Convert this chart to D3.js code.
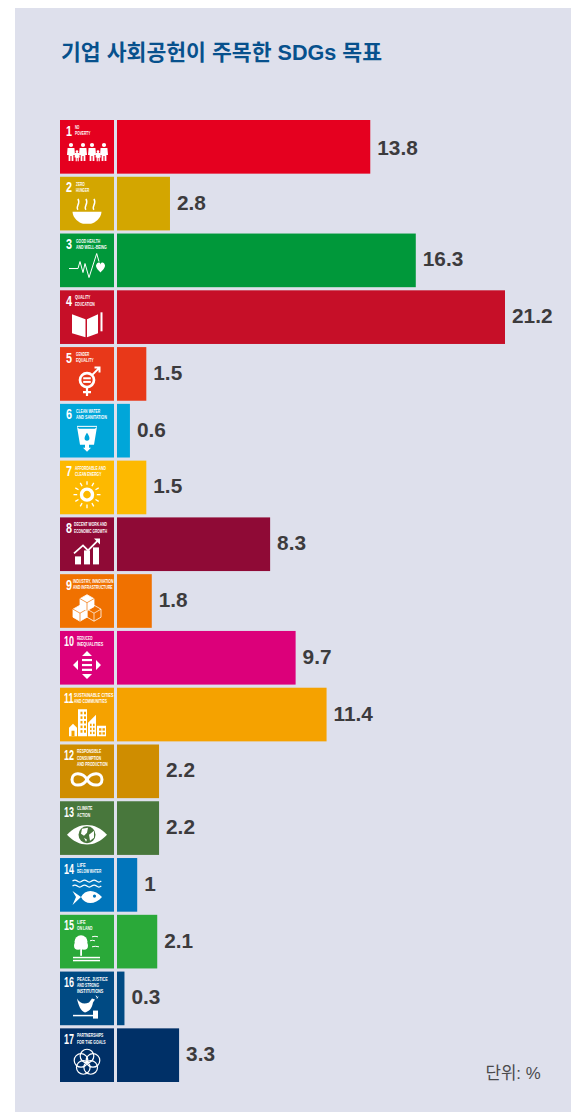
<!DOCTYPE html>
<html><head><meta charset="utf-8">
<style>html,body{margin:0;padding:0;background:#fff}svg{display:block}</style>
<script src="https://cdn.jsdelivr.net/npm/d3@7"></script></head>
<body><svg id="c" width="586" height="1112"></svg>
<script>
const goalNumbers=[1,2,3,4,5,6,7,8,9,10,11,12,13,14,15,16,17];
const values=[13.8,2.8,16.3,21.2,1.5,0.6,1.5,8.3,1.8,9.7,11.4,2.2,2.2,1,2.1,0.3,3.3];
const valueLabels=["13.8","2.8","16.3","21.2","1.5","0.6","1.5","8.3","1.8","9.7","11.4","2.2","2.2","1","2.1","0.3","3.3"];
const colors=["#e5001f","#d3a600","#00983a","#c60f28","#e83819","#00a6d9","#fdb900","#8f0a36","#f07100","#dc007a","#f5a200","#cf8d00","#48773c","#0075bb","#2aa939","#004a83","#003067"];
const goalNames=[["NO","POVERTY"],["ZERO","HUNGER"],["GOOD HEALTH","AND WELL-BEING"],["QUALITY","EDUCATION"],["GENDER","EQUALITY"],["CLEAN WATER","AND SANITATION"],["AFFORDABLE AND","CLEAN ENERGY"],["DECENT WORK AND","ECONOMIC GROWTH"],["INDUSTRY, INNOVATION","AND INFRASTRUCTURE"],["REDUCED","INEQUALITIES"],["SUSTAINABLE CITIES","AND COMMUNITIES"],["RESPONSIBLE","CONSUMPTION","AND PRODUCTION"],["CLIMATE","ACTION"],["LIFE","BELOW WATER"],["LIFE","ON LAND"],["PEACE, JUSTICE","AND STRONG","INSTITUTIONS"],["PARTNERSHIPS","FOR THE GOALS"]];
const titleText="기업 사회공헌이 주목한 SDGs 목표";
const unitText="단위: %";
const svg=d3.select("#c");
const font="'Liberation Sans','Noto Sans CJK KR',sans-serif";
svg.append("rect").attr("x",15).attr("y",8).attr("width",556).attr("height",1104).attr("fill","#dee0ec");
svg.append("text").attr("x",61).attr("y",60).attr("fill","#07518d").attr("font-family",font).attr("font-size",21.5).attr("font-weight",700).attr("textLength",321).attr("lengthAdjust","spacingAndGlyphs").text(titleText);
const barLeft=117;
const x=d3.scaleLinear().domain([0,21.2]).range([119,505]);
const y=d3.scaleBand().domain(goalNumbers).range([120,1082]).paddingInner(0.055).paddingOuter(0);
const g=svg.selectAll("g.row").data(goalNumbers).join("g").attr("class","row");
g.append("rect").attr("x",60).attr("y",d=>y(d)).attr("width",54).attr("height",y.bandwidth()).attr("fill",(d,i)=>colors[i]);
g.append("rect").attr("x",barLeft).attr("y",d=>y(d)).attr("width",(d,i)=>x(values[i])-barLeft).attr("height",y.bandwidth()).attr("fill",(d,i)=>colors[i]);
g.append("text").attr("x",(d,i)=>x(values[i])+7).attr("y",(d,i)=>y(d)+y.bandwidth()/2+(i==0?8.5:6)).attr("fill","#3c3b3d").attr("font-family","'Liberation Sans',sans-serif").attr("font-weight",700).attr("font-size",20.8).text((d,i)=>valueLabels[i]);
g.append("text").attr("transform",d=>`translate(${d>=10?64:66},${y(d)+15.5}) scale(${d>=10?.6:.72},1)`).attr("fill","#fff").attr("font-family","'Liberation Sans Narrow','Liberation Sans',sans-serif").attr("font-weight",700).attr("font-size",15).text(d=>d);
const nameLeft=[75,76,76,75,76,76,75,74,73,77,74,77,77,77,77,77,77];
g.each(function(d,i){const s=d3.select(this);const x0=nameLeft[i];goalNames[i].forEach((t,k)=>{s.append("text").attr("x",x0).attr("y",y(d)+9+k*6.3).attr("fill","#fff").attr("font-family","'Liberation Sans Narrow','Liberation Sans',sans-serif").attr("font-weight",700).attr("font-size",4.7).attr("textLength",Math.min(113.5-x0,t.length*2.2)).attr("lengthAdjust","spacingAndGlyphs").text(t);});});
const W="#fff";
function icon(i,s,cx,cy){
 const bg=colors[i];
 const G=s.append("g").attr("transform",`translate(${cx},${cy})`).attr("fill",W).attr("stroke","none");
 const line=(p,w=1.2)=>G.append("path").attr("d",p).attr("fill","none").attr("stroke",W).attr("stroke-width",w);
 const n=i+1;
 if(n==1){[[-16,1],[-4,1],[5,1],[17,1],[-10,.65],[11,.65]].forEach(([a,k])=>{const t=10-19*k;G.append("circle").attr("cx",a).attr("cy",t+2).attr("r",2.1*k);G.append("path").attr("d",`M${a-3.4*k},${t+5*k}h${6.8*k}l.6,${7*k}h${-1.6*k}v${6*k}h${-1.8*k}v${-5*k}h${-1.2*k}v${5*k}h${-1.8*k}v${-6*k}h${-1.6*k}z`);});}
 if(n==2){G.append("path").attr("d","M-14.5,1H14.5C14,8 8,12 4,13H-4C-8,12 -14,8 -14.5,1Z");[-8,0,8].forEach(a=>line(`M${a-1},-1c-3,-3 3,-6 0,-11`,1.5));}
 if(n==3){line("M-18,4H-9L-7,-3L-4,8L-2,-1L2,13L9.7,-11L12,-3",1);G.append("path").attr("d","M9,1c1,-3.5 4,-4 4.5,-1c.5,-3 4,-2.5 4.5,1c0,3 -3,5 -4.5,7c-1.5,-2 -4.5,-4 -4.5,-7z");}
 if(n==4){G.append("path").attr("d","M-15,-11L-1.5,-6V12L-15,8Z M0,-6L11,-11V8L0,12Z");G.append("rect").attr("x",13.5).attr("y",-13).attr("width",2).attr("height",19);}
 if(n==5){G.append("circle").attr("r",7).attr("fill","none").attr("stroke",W).attr("stroke-width",2.7);line("M5,-5L12,-12M7.5,-12.5H12.5V-7.5",2);line("M0,7V16M-4,12H4",2.2);G.append("rect").attr("x",-3.8).attr("y",-2.8).attr("width",7.6).attr("height",2);G.append("rect").attr("x",-3.8).attr("y",.8).attr("width",7.6).attr("height",2);}
 if(n==6){line("M-10,-11.5H10",1);G.append("path").attr("d","M-10,-11L-7,7H-2V10H-4L0,14L4,10H2V7H7L10,-11L8,-9H-8Z");G.append("path").attr("d","M0,-5c-3,4 -3.5,8 0,8c3.5,0 3,-4 0,-8z").attr("fill",bg);}
 if(n==7){G.append("circle").attr("r",5.5).attr("fill","none").attr("stroke",W).attr("stroke-width",3.4);d3.range(12).forEach(k=>{const a=k*Math.PI/6;line(`M${Math.cos(a)*9.8},${Math.sin(a)*9.8}L${Math.cos(a)*13.5},${Math.sin(a)*13.5}`,1.3);});}
 if(n==8){[[-12,5],[-3,-1],[6,-4]].forEach(([a,t])=>G.append("rect").attr("x",a).attr("y",t).attr("width",6).attr("height",13-t));line("M-13,2L-4,-6L1,-1L11,-11",1.8);G.append("path").attr("d","M7,-13H13V-7Z");}
 if(n==9){[[7,5,"none"],[-7,5,W],[0,-5.5,W]].forEach(([a,b,f])=>{G.append("path").attr("d",`M${a},${b-8}L${a+7},${b-4}V${b+4}L${a},${b+8}L${a-7},${b+4}V${b-4}Z`).attr("fill",f).attr("stroke",W).attr("stroke-width",.8);G.append("path").attr("d",`M${a-7},${b-4}L${a},${b}L${a+7},${b-4}M${a},${b}V${b+8}`).attr("fill","none").attr("stroke",f==W?bg:W).attr("stroke-width",.7);});}
 if(n==10){G.append("path").attr("d","M-5,-9L0,-14L5,-9Z M-5,9L0,14L5,9Z M-14,0L-9,-5V5Z M14,0L9,-5V5Z");[-6,-1,3.8].forEach(b=>G.append("rect").attr("x",-5).attr("y",b).attr("width",10).attr("height",2.2));}
 if(n==11){G.append("path").attr("d","M-18,13.5V5L-14,1L-10,5V13.5Z M-9,13.5V-13.5H0V13.5Z M1,13.5V0L9,-8V13.5Z M10,13.5V3H19V13.5Z");d3.range(5).forEach(r=>[-6.5,-3].forEach(a=>G.append("rect").attr("x",a).attr("y",-11+r*4.6).attr("width",2).attr("height",2.6).attr("fill",bg)));d3.range(3).forEach(r=>[3,6].forEach(a=>G.append("rect").attr("x",a).attr("y",1+r*4).attr("width",1.6).attr("height",2.4).attr("fill",bg)));[12,15.5].forEach(a=>[5.5,9.5].forEach(b=>G.append("rect").attr("x",a).attr("y",b).attr("width",2.4).attr("height",2.4).attr("fill",bg)));G.append("rect").attr("x",-15.5).attr("y",8).attr("width",3).attr("height",5.5).attr("fill",bg);}
 if(n==12){G.append("path").attr("d","M0,0C-4,-7 -15,-8 -15,0C-15,8 -4,7 0,0C4,-7 15,-8 15,0C15,8 4,7 0,0Z").attr("fill","none").attr("stroke",W).attr("stroke-width",3);}
 if(n==13){G.append("path").attr("d","M-20,0C-8,-13 8,-13 20,0C8,13 -8,13 -20,0Z");G.append("circle").attr("r",8.5).attr("fill",bg);G.append("path").attr("d","M-5,-6L1,-7L0,-2L-3,1L-6,-1Z M2,0L7,-4L7,3L3,6Z M-3,3L0,5L-1,7Z");}
 if(n==14){[-11,-6].forEach(b=>line(`M-14.5,${b}q2.4,-2 4.8,0t4.8,0t4.8,0t4.8,0t4.8,0t4.8,0`,1.2));G.append("path").attr("d","M-14.5,-1L-6,5C-2,-3 8,-3 15,5C8,13 -2,13 -6,5L-14.5,13L-11,5Z");G.append("circle").attr("cx",7.5).attr("cy",4).attr("r",1.6).attr("fill",bg);}
 if(n==15){G.append("circle").attr("cx",-6).attr("cy",-4).attr("r",6.5);G.append("circle").attr("cx",-9).attr("cy",0).attr("r",4);G.append("circle").attr("cx",-3).attr("cy",0).attr("r",4);G.append("rect").attr("x",-6.8).attr("y",2).attr("width",1.8).attr("height",8);[11,14].forEach(b=>G.append("rect").attr("x",-14).attr("y",b).attr("width",27).attr("height",1.5));line("M5,-9q3,-1 6,0M3,-5q2,-1 5,0M5,1q3,-1 7,0",1);}
 if(n==16){G.append("path").attr("d","M-10,-9C-7,-4 -3,-3 2,-5L5,-9L8,-8L6,-5C5,1 2,4 -2,5C-6,4 -9,-3 -10,-9Z");line("M-14,8H7",1.5);G.append("rect").attr("x",6).attr("y",3).attr("width",5).attr("height",8);line("M9,-12l1,2M11,-11l-1,2",.9);}
 if(n==17){[0,72,144,216,288].forEach(a=>{const r=a*Math.PI/180;G.append("circle").attr("cx",Math.sin(r)*6.3).attr("cy",-Math.cos(r)*6.3).attr("r",6.8).attr("fill","none").attr("stroke",W).attr("stroke-width",1.2);});}
}
const iconDy=[32,34,31,35,33,34,34,34,34,34,35,35,33.5,34,31,36,34];
g.each(function(d,i){icon(i,d3.select(this),87,y(d)+iconDy[i]);});
svg.append("text").attr("x",513).attr("y",1079).attr("text-anchor","middle").attr("fill","#4a4a4c").attr("font-family",font).attr("font-size",16.8).text(unitText);
</script></body></html>
